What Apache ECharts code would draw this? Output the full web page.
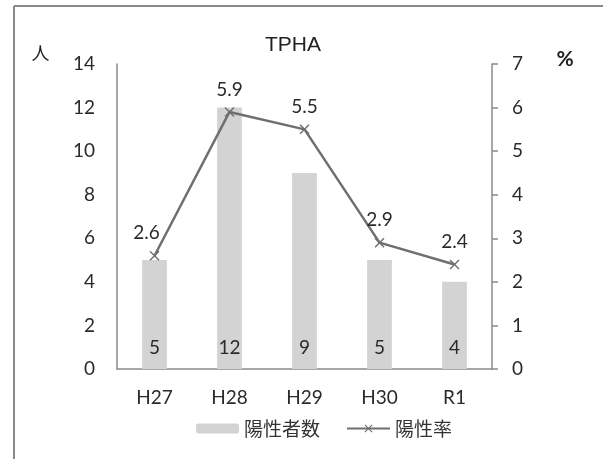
<!DOCTYPE html>
<html><head><meta charset="utf-8">
<script src="https://cdn.jsdelivr.net/npm/echarts@6/dist/echarts.min.js"></script>
<style>html,body{margin:0;padding:0;background:#fff}#c{width:603px;height:459px}</style>
</head><body><div id="c"></div>
<script>
const categories = ['H27', 'H28', 'H29', 'H30', 'R1'];
const positiveCount = [5, 12, 9, 5, 4];
const positiveRate = [2.6, 5.9, 5.5, 2.9, 2.4];
const leftTicks = {min: 0, max: 14, interval: 2};
const rightTicks = {min: 0, max: 7, interval: 1};

const FONT = 'Lato,"Noto Sans CJK JP",sans-serif';
const CJK = '"Noto Sans CJK JP",sans-serif';
const chart = echarts.init(document.getElementById('c'), null, {renderer: 'canvas'});
const xMark = 'path://M0,1 L1,0 L5,4 L9,0 L10,1 L6,5 L10,9 L9,10 L5,6 L1,10 L0,9 L4,5 Z';
const rateData = positiveRate.map((v, i) => i === 0 ? {value: v, label: {offset: [-8, 0]}} : v);
chart.setOption({
  animation: false,
  textStyle: {fontFamily: FONT},
  title: {text: 'TPHA', left: 288, top: 30, textAlign: 'center',
    textStyle: {fontSize: 21, fontWeight: 'normal', color: '#222', fontFamily: '"Liberation Sans",Arial,sans-serif'}},
  graphic: [
    {type: 'line', shape: {x1: 14, y1: 6, x2: 14, y2: 459}, style: {stroke: '#8a8a8a', lineWidth: 2}},
    {type: 'line', shape: {x1: 14, y1: 6, x2: 603, y2: 6}, style: {stroke: '#8a8a8a', lineWidth: 2}}
  ],
  legend: {
    left: 191, top: 414, itemWidth: 43, itemHeight: 10, itemGap: 26, itemTextGap: 6,
    textStyle: {fontSize: 19, color: '#333', fontFamily: CJK},
    data: ['陽性者数', '陽性率']
  },
  grid: {left: 117, right: 111, top: 64, bottom: 90},
  xAxis: {
    type: 'category', data: categories,
    axisLine: {lineStyle: {color: '#8a8a8a', width: 1.5}},
    axisTick: {show: false},
    axisLabel: {fontSize: 19, color: '#2a2a2a', margin: 19, fontFamily: FONT}
  },
  yAxis: [
    {type: 'value', min: leftTicks.min, max: leftTicks.max, interval: leftTicks.interval,
      name: '人', nameLocation: 'end', nameGap: 2,
      nameTextStyle: {fontSize: 18, color: '#222', padding: [0, 153, 0, 0], fontFamily: CJK},
      axisLine: {show: true, lineStyle: {color: '#8a8a8a', width: 1.5}},
      axisTick: {show: false}, splitLine: {show: false},
      axisLabel: {fontSize: 19, color: '#2a2a2a', margin: 22, fontFamily: FONT}},
    {type: 'value', min: rightTicks.min, max: rightTicks.max, interval: rightTicks.interval,
      name: '%', nameLocation: 'end', nameGap: -6,
      nameTextStyle: {fontSize: 21, color: '#222', fontWeight: 'bold', padding: [0, 0, 0, 146], fontFamily: FONT},
      axisLine: {show: true, lineStyle: {color: '#8a8a8a', width: 1.5}},
      axisTick: {show: true, length: 6, lineStyle: {color: '#8a8a8a', width: 1.5}},
      splitLine: {show: false},
      axisLabel: {fontSize: 19, color: '#2a2a2a', margin: 20, fontFamily: FONT}}
  ],
  series: [
    {name: '陽性者数', type: 'bar', data: positiveCount, barWidth: '33%',
      itemStyle: {color: '#d3d3d3'},
      label: {show: true, position: 'insideBottom', distance: 12, fontSize: 19, color: '#2a2a2a', fontFamily: FONT}},
    {name: '陽性率', type: 'line', yAxisIndex: 1, data: rateData,
      symbol: xMark, symbolSize: 10,
      lineStyle: {color: '#6f6f6f', width: 2.5},
      itemStyle: {color: '#6f6f6f'},
      label: {show: true, position: 'top', distance: 8, fontSize: 19, color: '#2a2a2a', fontFamily: FONT,
        formatter: p => Number(p.value).toFixed(1)}}
  ]
});
</script></body></html>
